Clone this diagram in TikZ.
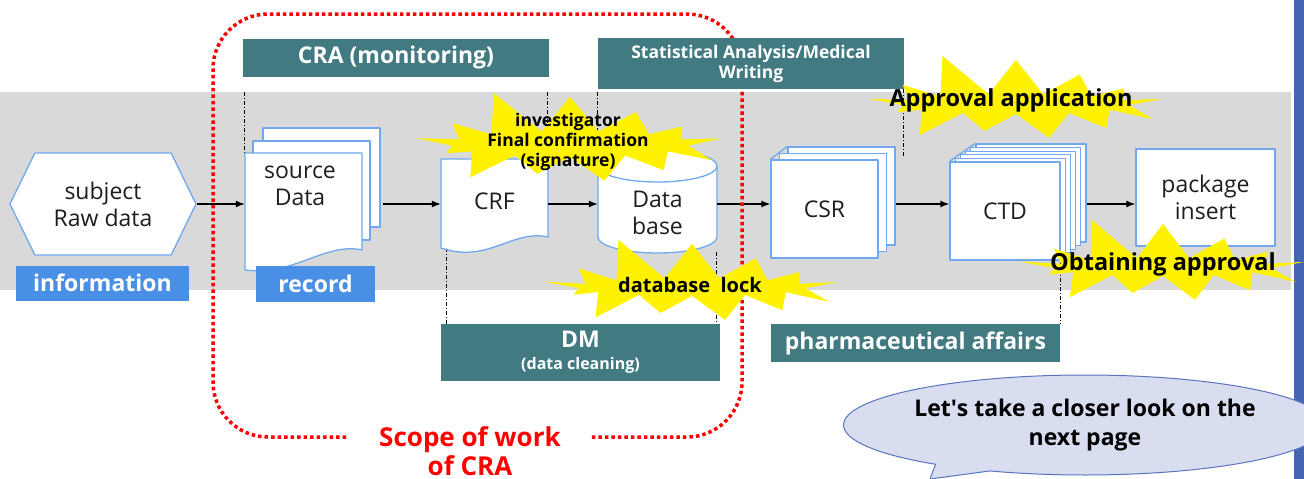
\documentclass[tikz,border=0pt]{standalone}
\usepackage{fontspec}
\setmainfont{Open Sans}
\usetikzlibrary{shapes.geometric,shapes.symbols,shapes.callouts,arrows.meta}

\definecolor{bandgray}{HTML}{D9D9D9}
\definecolor{headteal}{HTML}{417A81}
\definecolor{tagblue}{HTML}{4A8FE6}
\definecolor{edgeblue}{HTML}{70A8F0}
\definecolor{sidebar}{HTML}{4566B3}
\definecolor{bubblefill}{HTML}{D8DDF0}
\definecolor{bubbleedge}{HTML}{5B74BE}
\definecolor{inktext}{HTML}{1E1E1E}

\tikzset{
  head/.style={fill=headteal, text=white, inner sep=0pt, align=center,
    font=\bfseries\fontsize{23}{26}\selectfont},
  tag/.style={fill=tagblue, text=white, inner sep=0pt,
    font=\bfseries\fontsize{23}{26}\selectfont},
  page/.style={draw=edgeblue, fill=white, line width=1.3pt},
  lbl/.style={text=inktext, align=center, font=\fontsize{23}{27}\selectfont},
  box/.style={draw=none, inner sep=0pt},
  flow/.style={-{Latex[length=9pt,width=7pt]}, line width=1.3pt},
  guide/.style={line width=0.7pt, dash pattern=on 4pt off 2pt on 1pt off 2pt},
  scopeline/.style={red, line width=3.5pt, dash pattern=on 3.5pt off 3pt},
  burst/.style={starburst, fill=yellow, draw=none, inner sep=0pt,
    starburst points=13, starburst point height=46pt, random starburst=11},
  bursttxt/.style={text=black, align=center, inner sep=0pt},
}

\begin{document}
\begin{tikzpicture}[x=1pt,y=-1pt,line join=round]
  \useasboundingbox (0,0) rectangle (1304,479);
  \fill[bandgray] (0,92) rectangle (1291,290);
  \fill[sidebar] (1294,0) rectangle (1304,479);
  \coordinate (flow) at (0,204);

  % guide lines
  \foreach \x/\ya/\yb in {244/92/153, 547/92/150, 597/92/150, 903/89/157,
                          446/248/324, 716/252/343, 1060/260/324}
    \draw[guide] (\x,\ya) -- (\x,\yb);

  % subject
  \node[signal, signal to=west and east, signal pointer angle=128,
        page, lbl, minimum width=186pt, minimum height=102pt] (subj) at (103,204) {subject\\Raw data};

  % source data
  \draw[page] (263,128) rectangle (380,227);
  \draw[page] (253,141) rectangle (370,240);
  \draw[page] (245,153) -- (362,153) -- (362,250)
    .. controls (325,242) and (295,276) .. (245,270) -- cycle;
  \node[box, minimum width=138pt, minimum height=152pt] (src) at (314,204) {};
  \node[lbl] (srclbl) at (300,186) {source\\Data};

  % CRF
  \draw[page] (441,159) -- (548,159) -- (548,237)
    .. controls (512,229) and (488,264) .. (441,248) -- cycle;
  \node[box, lbl, minimum width=107pt, minimum height=90pt] (crf) at (494.5,201) {CRF};

  % database
  \fill[white] (598,166) rectangle (717,237);
  \draw[page] (598,166) -- (598,237)
    arc[start angle=180, end angle=360, x radius=59.5pt, y radius=16pt] -- (717,166);
  \draw[page] (657.5,166) ellipse [x radius=59.5pt, y radius=16pt];
  \node[box, minimum width=119pt, minimum height=103pt] (db) at (657.5,201.5) {};
  \node[lbl] (dblbl) at (657.5,213) {Data\\base};

  % CSR
  \foreach \k in {2,1}
    \node[page, minimum width=107pt, minimum height=98pt] (csr\k) at (824.5+8.5*\k,209-6.5*\k) {};
  \node[page, lbl, minimum width=107pt, minimum height=98pt] (csr) at (824.5,209) {CSR};
  \draw[page] (csr.north west) -- (csr2.north west);

  % CTD
  \foreach \k in {5,...,1}
    \node[page, minimum width=110pt, minimum height=98pt] (ctd\k) at (1005+5.2*\k,211-3.6*\k) {};
  \node[page, lbl, minimum width=110pt, minimum height=98pt] (ctd) at (1005,211) {CTD};
  \draw[page] (ctd.north west) -- (ctd5.north west);

  % package insert
  \node[page, lbl, minimum width=139pt, minimum height=97pt] (pkg) at (1205.5,197.5) {package\\insert};

  % flow
  \draw[flow] (subj.east |- flow) -- (src.west |- flow);
  \draw[flow] (src.east |- flow) -- (crf.west |- flow);
  \draw[flow] (crf.east |- flow) -- (db.west |- flow);
  \draw[flow] (db.east |- flow) -- (csr.west |- flow);
  \draw[flow] (csr2.east |- flow) -- (ctd.west |- flow);
  \draw[flow] (ctd5.east |- flow) -- (pkg.west |- flow);

  % scope of CRA
  \draw[scopeline, rounded corners=55pt] (346,437) -- (213,437) -- (213,14)
    -- (742,14) -- (742,437) -- (591,437);
  \node[text=red, align=center, font=\bfseries\fontsize{26}{29}\selectfont] (scopelbl)
    at (470,451) {Scope of work\\of CRA};

  % teams
  \node[head, minimum width=306pt, minimum height=38pt] (cra) at (396,58) {CRA (monitoring)};
  \node[head, minimum width=306pt, minimum height=51pt,
        font=\bfseries\fontsize{17.5}{20}\selectfont] (stat) at (751,63.5)
        {Statistical Analysis/Medical\\Writing};
  \node[head, minimum width=279pt, minimum height=57pt] (dm) at (580.5,352.5)
        {DM\\[-4pt]{\fontsize{16}{17}\selectfont (data cleaning)}};
  \node[head, minimum width=289pt, minimum height=38pt] (pharma) at (915.5,343) {pharmaceutical affairs};

  % tags
  \node[tag, minimum width=173pt, minimum height=35pt] (info) at (102.5,283) {information};
  \node[tag, minimum width=119pt, minimum height=36pt] (rec) at (315.5,284) {record};

  % milestones
  \node[burst, minimum width=330pt, minimum height=118pt] (sign) at (570,144) {};
  \node[bursttxt, font=\bfseries\fontsize{17.5}{20}\selectfont] (signtxt) at (568,142)
    {investigator\\Final confirmation\\(signature)};
  \node[burst, minimum width=320pt, minimum height=110pt] (lock) at (692,287) {};
  \node[bursttxt, font=\bfseries\fontsize{20}{24}\selectfont] (locktxt) at (690,285) {database\ \ lock};
  \node[burst, minimum width=320pt, minimum height=112pt] (appl) at (1016,104) {};
  \node[bursttxt, font=\bfseries\fontsize{23.5}{26}\selectfont] (appltxt) at (1011,100) {Approval application};
  \node[burst, minimum width=310pt, minimum height=110pt] (gain) at (1163,267) {};
  \node[bursttxt, font=\bfseries\fontsize{23.5}{26}\selectfont] (gaintxt) at (1163,264) {Obtaining approval};

  % note
  \node[ellipse callout, draw=bubbleedge, fill=bubblefill, line width=1pt,
        minimum width=434pt, minimum height=100pt, align=center, inner sep=0pt,
        callout absolute pointer={(930,479)},
        font=\bfseries\fontsize{23}{29}\selectfont] (note) at (1085,425)
        {Let\textquotesingle s take a closer look on the\\next page};
\end{tikzpicture}
\end{document}
